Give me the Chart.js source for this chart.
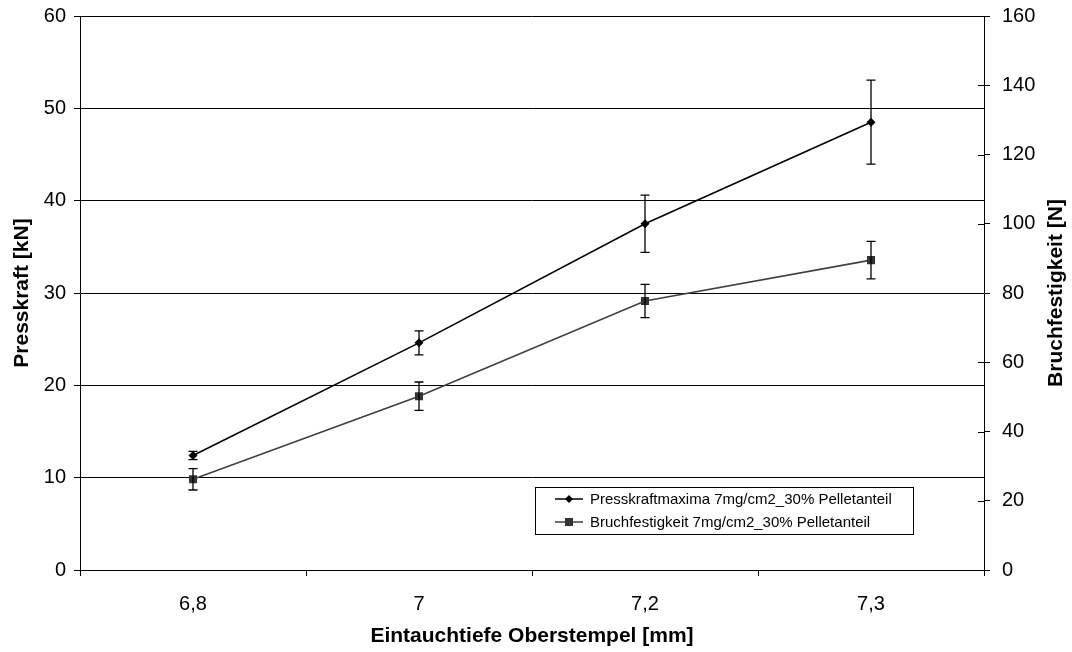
<!DOCTYPE html>
<html>
<head>
<meta charset="utf-8">
<script src="https://cdn.jsdelivr.net/npm/chart.js@4.4.1/dist/chart.umd.min.js"></script>
<style>
  html, body { margin: 0; padding: 0; background: #fff; }
  #wrap { width: 1072px; height: 652px; position: relative; }
</style>
</head>
<body>
<div id="wrap"><canvas id="chart"></canvas></div>
<script>
// categories and series
const depthLabels = ['6,8', '7', '7,2', '7,3'];
const pressForce = [12.4, 24.6, 37.5, 48.5];
const pressForceErr = [0.45, 1.3, 3.1, 4.55];
const breakStrength = [26.2, 50.2, 77.7, 89.5];
const breakStrengthErr = [3.1, 4.1, 4.8, 5.4];
const rightTitle = 'Bruchfestigkeit [N]';

const FONT = "'Liberation Sans', Arial, sans-serif";

// error bars drawn through the dataset's own y scale
const errorBars = {
    id: 'errorBars',
    afterDatasetsDraw(chart) {
        const ctx = chart.ctx;
        chart.data.datasets.forEach(function(ds, di) {
            const meta = chart.getDatasetMeta(di);
            const yScale = chart.scales[ds.yAxisID];
            ctx.save();
            ctx.strokeStyle = '#000';
            ctx.lineWidth = 1.3;
            meta.data.forEach(function(pt, i) {
                const v = ds.data[i], e = ds.errors[i];
                const yTop = yScale.getPixelForValue(v + e);
                const yBot = yScale.getPixelForValue(v - e);
                ctx.beginPath();
                ctx.moveTo(pt.x, yTop); ctx.lineTo(pt.x, yBot);
                ctx.moveTo(pt.x - 4.5, yTop); ctx.lineTo(pt.x + 4.5, yTop);
                ctx.moveTo(pt.x - 4.5, yBot); ctx.lineTo(pt.x + 4.5, yBot);
                ctx.stroke();
            });
            ctx.restore();
        });
    }
};

// right axis: ticks crossing the line, title reading bottom-to-top
const rightAxisExtras = {
    id: 'rightAxisExtras',
    afterDraw(chart) {
        const ctx = chart.ctx;
        const s = chart.scales.y1;
        ctx.save();
        ctx.strokeStyle = '#000';
        ctx.lineWidth = 1;
        s.ticks.forEach(function(t) {
            const y = Math.round(s.getPixelForValue(t.value)) + 0.5;
            ctx.beginPath();
            ctx.moveTo(s.left - 6, y); ctx.lineTo(s.left, y);
            ctx.stroke();
        });
        const a = chart.chartArea;
        ctx.translate(1056, (a.top + a.bottom) / 2);
        ctx.rotate(-Math.PI / 2);
        ctx.font = 'bold 21px ' + FONT;
        ctx.fillStyle = '#000';
        ctx.textAlign = 'center';
        ctx.textBaseline = 'middle';
        ctx.fillText(rightTitle, 0, 0);
        ctx.restore();
    }
};

// boxed legend inside the plot, bottom right
const boxLegend = {
    id: 'boxLegend',
    afterDraw(chart) {
        const ctx = chart.ctx;
        const a = chart.chartArea;
        const w = 378, h = 47;
        const x0 = a.right - 71 - w, y0 = a.bottom - 36 - h;
        ctx.save();
        ctx.fillStyle = '#fff';
        ctx.fillRect(x0, y0, w, h);
        ctx.strokeStyle = '#000';
        ctx.lineWidth = 1;
        ctx.strokeRect(x0 + 0.5, y0 + 0.5, w, h);
        ctx.font = '15px ' + FONT;
        ctx.textBaseline = 'middle';
        chart.data.datasets.forEach(function(ds, i) {
            const cy = y0 + 12 + i * 23;
            ctx.strokeStyle = ds.borderColor;
            ctx.lineWidth = 1.5;
            ctx.beginPath();
            ctx.moveTo(x0 + 20, cy); ctx.lineTo(x0 + 48, cy);
            ctx.stroke();
            ctx.fillStyle = ds.pointBackgroundColor;
            ctx.beginPath();
            if (ds.pointStyle === 'rectRot') {
                ctx.moveTo(x0 + 34, cy - 4); ctx.lineTo(x0 + 38, cy);
                ctx.lineTo(x0 + 34, cy + 4); ctx.lineTo(x0 + 30, cy);
                ctx.closePath();
            } else {
                ctx.rect(x0 + 30, cy - 4, 8, 8);
            }
            ctx.fill();
            ctx.fillStyle = '#000';
            ctx.fillText(ds.label, x0 + 55, cy + 1);
        });
        ctx.restore();
    }
};

function noPad(scale) {
    scale.paddingTop = 0;
    scale.paddingBottom = 0;
    scale.paddingLeft = 0;
    scale.paddingRight = 0;
}

new Chart(document.getElementById('chart'), {
    type: 'line',
    data: {
        labels: depthLabels,
        datasets: [{
            label: 'Presskraftmaxima 7mg/cm2_30% Pelletanteil',
            data: pressForce,
            errors: pressForceErr,
            yAxisID: 'y',
            borderColor: '#000',
            borderWidth: 1.6,
            pointStyle: 'rectRot',
            pointRadius: 4.5,
            pointBackgroundColor: '#000',
            pointBorderWidth: 0,
            tension: 0
        }, {
            label: 'Bruchfestigkeit 7mg/cm2_30% Pelletanteil',
            data: breakStrength,
            errors: breakStrengthErr,
            yAxisID: 'y1',
            borderColor: '#404040',
            borderWidth: 1.6,
            pointStyle: 'rect',
            pointRadius: 5.7,
            pointBackgroundColor: '#333',
            pointBorderWidth: 0,
            tension: 0
        }]
    },
    options: {
        responsive: true,
        maintainAspectRatio: false,
        animation: false,
        layout: { padding: { top: 16, left: 0, right: 0, bottom: 0 } },
        scales: {
            x: {
                offset: true,
                grid: { display: true, drawOnChartArea: false, offset: true, color: '#000', tickLength: 6 },
                border: { display: true, color: '#000', width: 1 },
                ticks: { font: { family: FONT, size: 20 }, color: '#000', padding: 16 },
                title: { display: true, text: 'Eintauchtiefe Oberstempel [mm]', font: { family: FONT, size: 21, weight: 'bold' }, color: '#000', padding: { top: 4, bottom: 3 } },
                afterFit(scale) { noPad(scale); scale.height = 82; }
            },
            y: {
                position: 'left',
                min: 0, max: 60,
                ticks: { stepSize: 10, font: { family: FONT, size: 20 }, color: '#000', padding: 8 },
                grid: { color: '#000', lineWidth: 1, tickLength: 6 },
                border: { display: true, color: '#000', width: 1 },
                title: { display: true, text: 'Presskraft [kN]', font: { family: FONT, size: 21, weight: 'bold' }, color: '#000', padding: { top: 10, bottom: 0 } },
                afterFit(scale) { noPad(scale); scale.width = 80; }
            },
            y1: {
                position: 'right',
                min: 0, max: 160,
                ticks: { stepSize: 20, font: { family: FONT, size: 20 }, color: '#000', padding: 12 },
                grid: { drawOnChartArea: false, color: '#000', tickLength: 6 },
                border: { display: true, color: '#000', width: 1 },
                title: { display: false },
                afterFit(scale) { noPad(scale); scale.width = 88; }
            }
        },
        plugins: {
            legend: { display: false },
            tooltip: { enabled: false }
        }
    },
    plugins: [errorBars, rightAxisExtras, boxLegend]
});
</script>
</body>
</html>
